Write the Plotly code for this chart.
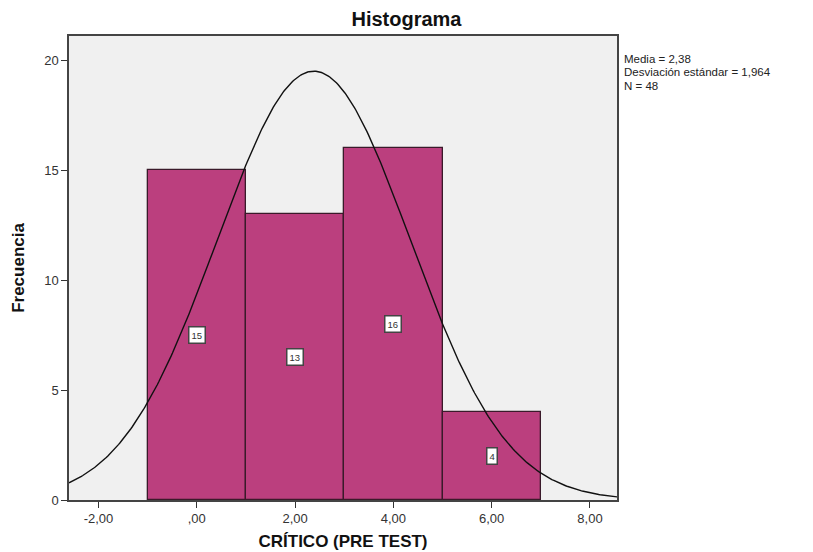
import numpy as np
import plotly.graph_objects as go

bin_left = [-1, 1, 3, 5]
bin_width = 2
counts = [15, 13, 16, 4]
mean_val = 2.38
sd_val = 1.964
n_val = 48
x_ticks = [-2, 0, 2, 4, 6, 8]
x_tick_labels = ["-2,00", ",00", "2,00", "4,00", "6,00", "8,00"]
y_ticks = [0, 5, 10, 15, 20]
stat_lines = ["Media = 2,38", "Desviación estándar = 1,964", "N = 48"]

centers = [b + bin_width / 2 for b in bin_left]
FONT = "Liberation Sans, Arial"

fig = go.Figure()
fig.add_trace(go.Bar(
    x=centers, y=counts, width=[bin_width] * len(counts),
    marker=dict(color="#bb3f7e", line=dict(color="#3a1a2a", width=1.3)),
    showlegend=False, hoverinfo="skip",
))

xs = np.linspace(-2.6, 8.6, 400)
ys = n_val * bin_width * np.exp(-0.5 * ((xs - mean_val) / sd_val) ** 2) / (sd_val * np.sqrt(2 * np.pi))
fig.add_trace(go.Scatter(x=xs, y=ys, mode="lines", line=dict(color="#111111", width=1.4),
                         showlegend=False, hoverinfo="skip"))

for c, v in zip(centers, counts):
    fig.add_annotation(x=c, y=v / 2, text=str(v), showarrow=False,
                       font=dict(family=FONT, size=9.5, color="#333333"),
                       bgcolor="white", bordercolor="#444444", borderwidth=1.5, borderpad=2)

for i, line in enumerate(stat_lines):
    fig.add_annotation(xref="paper", yref="paper", x=1.011, y=0.965 - i * 0.0285,
                       xanchor="left", yanchor="top", align="left", showarrow=False,
                       borderpad=0,
                       text=line, font=dict(family=FONT, size=11.5, color="#222222"))

fig.update_layout(
    width=805, height=544,
    margin=dict(l=61, r=196, t=28, b=52, autoexpand=False),
    paper_bgcolor="white", plot_bgcolor="#f0f0f0",
    title=dict(text="<b>Histograma</b>", x=0.495, xref="container", xanchor="center",
               y=0.993, yanchor="top", automargin=False,
               font=dict(family=FONT, size=20, color="#111111")),
    xaxis=dict(range=[-2.6, 8.55], tickvals=x_ticks, ticktext=x_tick_labels, automargin=False,
               showgrid=False, zeroline=False, ticks="outside", ticklen=6, tickcolor="#333333",
               showline=True, linecolor="#444444", linewidth=1.5, mirror=True,
               tickfont=dict(family=FONT, size=13, color="#333333"),
               title=dict(text="<b>CRÍTICO (PRE TEST)</b>", standoff=10,
                          font=dict(family=FONT, size=17, color="#111111"))),
    yaxis=dict(range=[0, 21.1], tickvals=y_ticks, automargin=False,
               showgrid=False, zeroline=False, ticks="outside", ticklen=6, tickcolor="#333333",
               showline=True, linecolor="#444444", linewidth=1.5, mirror=True,
               tickfont=dict(family=FONT, size=13, color="#333333"),
               title=dict(text="<b>Frecuencia</b>", standoff=15,
                          font=dict(family=FONT, size=17, color="#111111"))),
    bargap=0,
)

fig.write_html("out.html")
